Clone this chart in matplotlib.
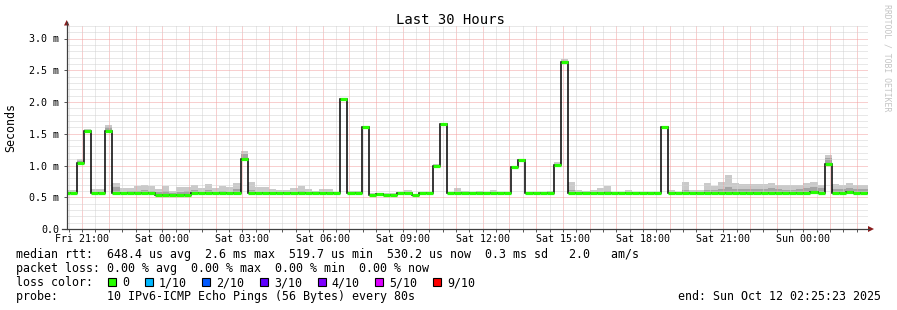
import numpy as np
import matplotlib.pyplot as plt
from matplotlib.ticker import MultipleLocator, FuncFormatter
from matplotlib.patches import Polygon, Rectangle

plt.rcParams['font.family'] = ['DejaVu Sans Mono']

# time in hours since Fri 00:00, rrd bins of 16 minutes
t_end = 50 + 25 / 60 + 23 / 3600
t_first_bin = 20 + 16 / 60
bin_h = 16 / 60

# median rtt per bin (ms)
median = [
    0.56, 0.56, 1.04, 1.55, 0.56, 0.56, 1.54, 0.56, 0.56, 0.56,
    0.56, 0.56, 0.56, 0.53, 0.53, 0.53, 0.53, 0.53, 0.56, 0.56,
    0.56, 0.56, 0.56, 0.56, 0.57, 1.11, 0.56, 0.56, 0.56, 0.56,
    0.56, 0.56, 0.56, 0.56, 0.56, 0.56, 0.56, 0.56, 0.56, 2.05,
    0.56, 0.56, 1.60, 0.54, 0.55, 0.54, 0.54, 0.56, 0.56, 0.53,
    0.56, 0.56, 0.99, 1.66, 0.56, 0.56, 0.56, 0.56, 0.56, 0.56,
    0.56, 0.56, 0.56, 0.97, 1.09, 0.56, 0.56, 0.56, 0.56, 1.01,
    2.63, 0.56, 0.56, 0.56, 0.56, 0.56, 0.56, 0.56, 0.56, 0.56,
    0.56, 0.56, 0.56, 0.56, 1.61, 0.56, 0.56, 0.56, 0.56, 0.56,
    0.57, 0.57, 0.57, 0.57, 0.57, 0.57, 0.57, 0.56, 0.56, 0.57,
    0.57, 0.56, 0.57, 0.56, 0.57, 0.58, 0.56, 1.02, 0.56, 0.56,
    0.58, 0.56, 0.56, 0.56,
]

# upper edge of the smoke (slowest pings) per bin
smoke_max = [
    0.62, 0.62, 1.10, 1.57, 0.63, 0.63, 1.64, 0.73, 0.64, 0.65,
    0.67, 0.70, 0.68, 0.63, 0.68, 0.60, 0.66, 0.66, 0.70, 0.64,
    0.71, 0.65, 0.67, 0.66, 0.73, 1.23, 0.74, 0.66, 0.66, 0.63,
    0.62, 0.62, 0.64, 0.67, 0.63, 0.60, 0.63, 0.63, 0.58, 2.06,
    0.60, 0.60, 1.61, 0.56, 0.57, 0.56, 0.56, 0.58, 0.61, 0.55,
    0.57, 0.57, 1.02, 1.67, 0.58, 0.65, 0.60, 0.57, 0.60, 0.58,
    0.61, 0.57, 0.57, 0.98, 1.10, 0.59, 0.58, 0.57, 0.60, 1.06,
    2.68, 0.74, 0.61, 0.60, 0.62, 0.64, 0.68, 0.57, 0.57, 0.61,
    0.57, 0.57, 0.57, 0.57, 1.62, 0.61, 0.59, 0.74, 0.61, 0.61,
    0.72, 0.68, 0.74, 0.85, 0.72, 0.71, 0.71, 0.71, 0.71, 0.72,
    0.70, 0.69, 0.69, 0.70, 0.72, 0.74, 0.70, 1.17, 0.71, 0.70,
    0.72, 0.70, 0.70, 0.70,
]

# denser part of the smoke per bin
smoke_mid = [
    0.58, 0.58, 1.07, 1.56, 0.59, 0.58, 1.60, 0.66, 0.59, 0.60,
    0.60, 0.61, 0.60, 0.58, 0.60, 0.57, 0.59, 0.60, 0.62, 0.59,
    0.61, 0.59, 0.60, 0.59, 0.63, 1.18, 0.61, 0.59, 0.59, 0.58,
    0.58, 0.58, 0.59, 0.60, 0.58, 0.57, 0.58, 0.58, 0.57, 2.05,
    0.57, 0.57, 1.60, 0.55, 0.56, 0.55, 0.55, 0.57, 0.58, 0.54,
    0.56, 0.56, 1.00, 1.66, 0.57, 0.59, 0.57, 0.56, 0.57, 0.57,
    0.58, 0.56, 0.56, 0.97, 1.09, 0.57, 0.57, 0.56, 0.57, 1.03,
    2.65, 0.62, 0.58, 0.57, 0.58, 0.59, 0.60, 0.56, 0.56, 0.58,
    0.56, 0.56, 0.56, 0.56, 1.61, 0.58, 0.57, 0.62, 0.58, 0.59,
    0.62, 0.61, 0.63, 0.66, 0.63, 0.63, 0.63, 0.63, 0.63, 0.64,
    0.63, 0.62, 0.62, 0.63, 0.65, 0.66, 0.64, 1.12, 0.63, 0.63,
    0.64, 0.63, 0.63, 0.63,
]

days = ['Fri', 'Sat', 'Sun']

loss_labels = ['0', '1/10', '2/10', '3/10', '4/10', '5/10', '9/10']
loss_colors = ['#26ff00', '#00b8ff', '#0059ff', '#5e00ff', '#7e00ff',
               '#dd00ff', '#ff0000']

legend_lines = [
    'median rtt:  648.4 us avg  2.6 ms max  519.7 us min  530.2 us now  0.3 ms sd   2.0   am/s',
    'packet loss: 0.00 % avg  0.00 % max  0.00 % min  0.00 % now',
    'loss color:',
    'probe:       10 IPv6-ICMP Echo Pings (56 Bytes) every 80s',
]
end_text = 'end: Sun Oct 12 02:25:23 2025'


W, H = 897, 310
fig = plt.figure(figsize=(W / 100, H / 100), dpi=100)
fig.patch.set_facecolor('white')

ax = fig.add_axes([66.7 / W, (H - 229) / H, 801.3 / W, 203.2 / H])
ax.set_facecolor('white')

med = np.array(median)
smax = np.array(smoke_max)
smid = np.array(smoke_mid)
edges = t_first_bin + bin_h * np.arange(len(med) + 1)

ax.bar(edges[:-1], smax - med, bottom=med, width=bin_h, align='edge',
       color='#cacaca', linewidth=0, zorder=1)
ax.bar(edges[:-1], smid - med, bottom=med, width=bin_h, align='edge',
       color='#a4a4a4', linewidth=0, zorder=1.2)
ax.stairs(med, edges, baseline=None, color='black', linewidth=1.1, zorder=3)
ax.hlines(med, edges[:-1], edges[1:], color=loss_colors[0], linewidth=2.3,
          zorder=4)

ax.set_xlim(t_end - 30, t_end)
ax.set_ylim(0, 3.2)

ax.xaxis.set_major_locator(MultipleLocator(1))
ax.xaxis.set_minor_locator(MultipleLocator(0.5))
ax.yaxis.set_major_locator(MultipleLocator(0.5))
ax.yaxis.set_minor_locator(MultipleLocator(0.1))


def fmt_time(h, pos):
    h = int(round(h))
    if h % 3:
        return ''
    return f'{days[h // 24]} {h % 24:02d}:00'


def fmt_sec(v, pos):
    if abs(v) < 1e-9:
        return '0.0'
    return f'{v:.1f} m'


ax.xaxis.set_major_formatter(FuncFormatter(fmt_time))
ax.yaxis.set_major_formatter(FuncFormatter(fmt_sec))

ax.set_axisbelow(False)
dots = (0, (1, 1))
ax.grid(which='minor', color='#d2d2d2', linestyle=dots, linewidth=0.72)
ax.grid(which='major', color='#f3a0a0', linestyle=dots, linewidth=0.72)

ax.tick_params(which='both', length=2, width=0.7, color='#555555',
               labelsize=7.2)
ax.tick_params(axis='x', pad=1.5)
ax.tick_params(axis='y', which='minor', length=0)
ax.tick_params(axis='y', pad=3.4)
for s in ax.spines.values():
    s.set_visible(False)

# overlay in pixel coordinates for axis lines, arrows and legend
ov = fig.add_axes([0, 0, 1, 1])
ov.set_xlim(0, W)
ov.set_ylim(H, 0)
ov.axis('off')

ov.plot([66.7, 66.7], [229, 22], color='#404040', linewidth=0.9)
ov.plot([62, 869], [229, 229], color='#404040', linewidth=0.9)
ov.add_patch(Polygon([(64, 25.5), (69.4, 25.5), (66.7, 20)],
                     color='#8b1c1c', linewidth=0))
ov.add_patch(Polygon([(868, 226), (868, 232), (874, 229)],
                     color='#8b1c1c', linewidth=0))

ov.text(450, 20, 'Last 30 Hours', ha='center', va='center', fontsize=10)
ov.text(11, 127, 'Seconds', rotation=90, ha='center', va='center',
        fontsize=8.4)
ov.text(887.5, 4, 'RRDTOOL / TOBI OETIKER', rotation=270, ha='center',
        va='top', fontsize=5.9, color='#c4c4c4')

baselines = [258, 272, 286, 300]
for line, yb in zip(legend_lines, baselines):
    ov.text(16, yb, line, ha='left', va='baseline', fontsize=8.4)
ov.text(880.5, baselines[3], end_text, ha='right', va='baseline',
        fontsize=8.4)

char_w = 7.03
x = 108.3
for lab, col in zip(loss_labels, loss_colors):
    ov.add_patch(Rectangle((x, 278.3), 8, 8, facecolor=col,
                           edgecolor='black', linewidth=0.8))
    ov.text(x + 14, baselines[2], lab, ha='left', va='baseline',
            fontsize=8.4)
    x += 14 + len(lab) * char_w + 15.5

fig.savefig('out.png', dpi=100)
